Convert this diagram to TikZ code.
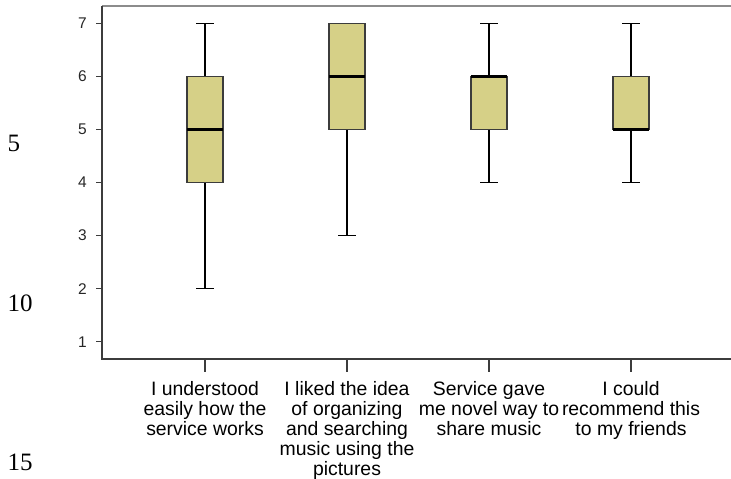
\documentclass[tikz,border=0pt]{standalone}
\usepackage{fontspec}
\setmainfont{Liberation Sans}
\newfontfamily\linenofont{Liberation Serif}
\usepackage{tikz}
\usetikzlibrary{positioning}

\definecolor{boxfill}{RGB}{214,208,135}
\definecolor{axisgray}{RGB}{60,60,60}

\begin{document}
\begin{tikzpicture}[
    x = 1pt, y = -1pt, % one unit is one pixel, y runs down
    declare function = {yv(\v) = 394.77 - 53.07*\v;}, % scale value -> pixel row
    box/.style = {draw = axisgray, fill = boxfill, line width = 1.2pt},
    whisker/.style = {draw = black, line width = 1.5pt},
    median/.style = {draw = black, line width = 2.6pt},
    ticklabel/.style = {anchor = east, inner sep = 0pt, font = \fontsize{15.5}{17}\selectfont, text = black!85},
    catlabel/.style = {anchor = north, inner sep = 0pt, align = center, font = \fontsize{19.4}{20}\selectfont},
    lineno/.style = {anchor = base west, inner sep = 0pt, font = \linenofont\fontsize{25}{25}\selectfont}
    ]
    \useasboundingbox (0,0) rectangle (731,479);

    % frame
    \coordinate (tl) at (102,6);
    \coordinate (o) at (102,359);
    \coordinate (tr) at (731,6);
    \coordinate (br) at (731,359);
    \draw[black!45, line width = 1.5pt] (tl) -- (tr);
    \draw[axisgray, line width = 1.5pt] (tl) -- (o) -- (br);

    % y axis ticks
    \foreach \v in {1,...,7} {
        \draw[axisgray, line width = 1.3pt] (96,{yv(\v)}) -- (102,{yv(\v)});
        \node[ticklabel] (t\v) at (87,{yv(\v)}) {\v};
    }

    % boxes: x / q1 / median / q3 / low / high
    \foreach \x/\q/\m/\Q/\lo/\hi [count=\i] in {205/4/5/6/2/7, 347/5/6/7/3/7, 489/5/6/6/4/7, 631/5/5/6/4/7} {
        \draw[whisker] (\x,{yv(\lo)}) -- (\x,{yv(\q)});
        \draw[whisker] (\x,{yv(\Q)}) -- (\x,{yv(\hi)});
        \draw[whisker] (\x-9,{yv(\lo)}) -- (\x+9,{yv(\lo)});
        \draw[whisker] (\x-9,{yv(\hi)}) -- (\x+9,{yv(\hi)});
        \draw[box] (\x-18,{yv(\q)}) rectangle (\x+18,{yv(\Q)});
        \draw[median] (\x-18,{yv(\m)}) -- (\x+18,{yv(\m)});
        \draw[axisgray, line width = 1.3pt] (\x,359) -- (\x,372);
    }

    % category labels
    \node[catlabel] (c1) at (205,381) {I understood\\easily how the\\service works};
    \node[catlabel] (c2) at (347,381) {I liked the idea\\of organizing\\and searching\\music using the\\pictures};
    \node[catlabel] (c3) at (489,381) {Service gave\\me novel way to\\share music};
    \node[catlabel] (c4) at (631,381) {I could\\recommend this\\to my friends};

    % line numbers
    \node[lineno] (n5) at (7.5,151) {5};
    \node[lineno] (n10) at (7.5,311) {10};
    \node[lineno] (n15) at (7.5,470) {15};
\end{tikzpicture}
\end{document}
